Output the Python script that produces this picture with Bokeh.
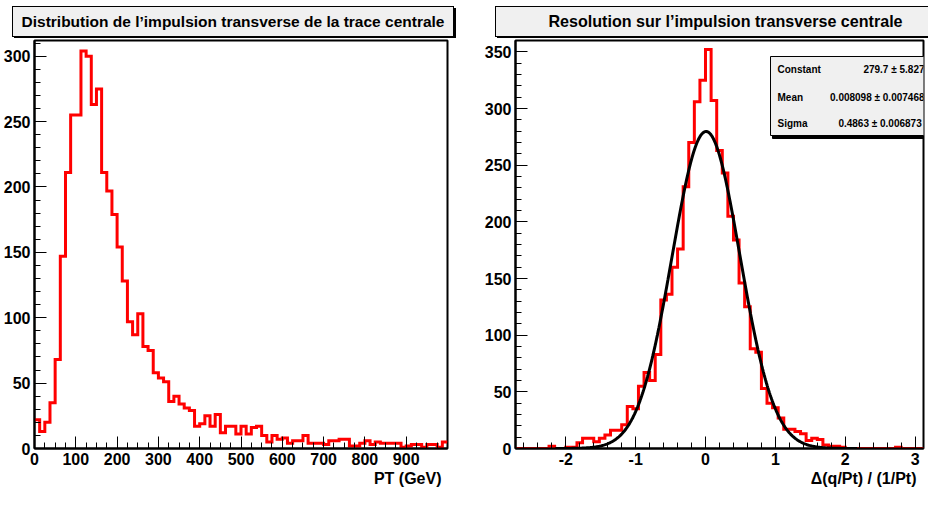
import numpy as np
from bokeh.plotting import figure
from bokeh.models import FixedTicker, BoxAnnotation, Label, Range1d, Title, Div
from bokeh.layouts import row, column
from bokeh.embed import file_html
from bokeh.resources import INLINE

FONT = "Liberation Sans"

# ---------------- data ----------------
# Left: transverse momentum distribution, 80 bins from 0 to 1000 GeV
pt_min, pt_max, pt_nbins = 0.0, 1000.0, 80
pt_counts = [22, 13, 20, 35, 68, 147, 211, 255, 255, 304,
             300, 263, 275, 211, 197, 179, 154, 128, 97, 87,
             103, 78, 75, 58, 54, 51, 36, 40, 34, 31,
             29, 17, 19, 25, 17, 26, 12, 17, 17, 11,
             17, 11, 16, 17, 10, 5, 10, 7, 8, 4,
             6, 6, 10, 4, 4, 4, 3, 6, 6, 7,
             7, 2, 2, 4, 6, 3, 5, 4, 4, 4,
             4, 1, 2, 3, 3, 1, 3, 3, 1, 5]
pt_yrange = (0, 312)
pt_major_ticks = [0, 100, 200, 300, 400, 500, 600, 700, 800, 900]
pt_minor_ticks = list(range(0, 1001, 25))
pt_y_major = [0, 50, 100, 150, 200, 250, 300]
pt_y_minor = list(range(0, 311, 10))

# Right: resolution on transverse momentum, 73 bins of 0.08
res_min, res_max, res_nbins = -2.72, 3.12, 73
res_counts = [0, 0, 0, 0, 0, 0, 2, 0, 0, 1,
              1, 5, 9, 9, 6, 9, 12, 16, 16, 21,
              37, 35, 55, 67, 60, 83, 131, 136, 160, 176,
              231, 270, 306, 325, 352, 307, 263, 243, 205, 184,
              146, 125, 88, 85, 53, 40, 36, 27, 17, 17,
              15, 13, 7, 9, 8, 3, 2, 2, 1, 0,
              0, 0, 0, 0, 0, 0, 0, 0, 1, 0,
              0, 0, 0]
res_yrange = (0, 360)
res_x_major = [-2, -1, 0, 1, 2, 3]
res_x_labels = {-2: "-2", -1: "-1", 0: "0", 1: "1", 2: "2", 3: "3"}
res_x_minor = [round(-2.6 + 0.2 * i, 1) for i in range(29)]
res_y_major = [0, 50, 100, 150, 200, 250, 300, 350]
res_y_minor = list(range(0, 361, 10))

# Gaussian fit parameters (stats box)
fit_names = ["Constant", "Mean", "Sigma"]
fit_values = [279.7, 0.008098, 0.4863]
fit_errors = [5.827, 0.007468, 0.006873]
fit_texts = ["279.7 \u00b1 5.827", "0.008098 \u00b1 0.007468", "0.4863  \u00b1 0.006873"]
fit_range = (-2.15, 2.17)

titles = ["Distribution de l\u2019impulsion transverse de la trace centrale",
          "Resolution sur l\u2019impulsion transverse centrale"]
xlabels = ["PT (GeV)", "\u0394(q/Pt) / (1/Pt)"]

# ---------------- layout ----------------
HT = 38                  # height of the title strip
BT, FH, BB = 2, 408, 44  # main figure borders / frame height


def style_axes(p, xmaj, xmin, ymaj, ymin):
    p.xaxis.ticker = FixedTicker(ticks=xmaj, minor_ticks=xmin)
    p.yaxis.ticker = FixedTicker(ticks=ymaj, minor_ticks=ymin)
    for ax in (p.xaxis[0], p.yaxis[0]):
        ax.major_tick_in = 12
        ax.major_tick_out = 0
        ax.minor_tick_in = 6
        ax.minor_tick_out = 0
        ax.major_tick_line_color = "black"
        ax.minor_tick_line_color = "black"
        ax.major_tick_line_width = 1
        ax.minor_tick_line_width = 1
        ax.axis_line_color = "black"
        ax.axis_line_width = 2
        ax.major_label_text_font = FONT
        ax.major_label_text_font_style = "bold"
        ax.major_label_text_font_size = "16px"
        ax.major_label_text_color = "black"
        ax.major_label_standoff = 4
    p.grid.visible = False
    p.outline_line_color = "black"
    p.outline_line_width = 2


def axis_title(p, s, offset):
    p.add_layout(Title(text=s, align="right", offset=offset, standoff=1,
                       text_font=FONT, text_font_style="bold", text_font_size="16px",
                       text_color="black"), "below")


def make_fig(W, BL, FW, BR, xr, yr):
    p = figure(width=W, height=BT + FH + BB, frame_width=FW, frame_height=FH,
               min_border_left=BL, min_border_right=BR,
               min_border_top=BT, min_border_bottom=BB,
               x_range=Range1d(*xr), y_range=Range1d(*yr),
               output_backend="svg", toolbar_location=None)
    p.background_fill_color = "white"
    p.border_fill_color = "white"
    return p


def title_strip(W, left, top, width, height, s, size):
    # ROOT-like title box: grey fill, black border, dark shadow
    html = (f'<div style="position:relative;margin-left:{left}px;margin-top:{top}px;'
            f'width:{width}px;min-width:{width}px;max-width:none;height:{height}px;'
            f'box-sizing:border-box;background:#f0f0f0;border:1px solid #000;'
            f'box-shadow:2px 2px 0 #000;display:flex;align-items:center;justify-content:center;'
            f"font-family:'{FONT}';font-weight:bold;font-size:{size};color:#000;"
            f'white-space:nowrap;line-height:1;">{s}</div>')
    return Div(text=html, width=W, height=HT, margin=0,
               styles={"overflow": "hidden", "background-color": "white"})


def box(p, BL, l, r, t, b, color, line=None):
    # local coords of the main figure (y from top) -> screen units relative to frame
    p.add_layout(BoxAnnotation(left=l - BL, right=r - BL, top=BT + FH - t, bottom=BT + FH - b,
                               left_units="screen", right_units="screen",
                               top_units="screen", bottom_units="screen",
                               fill_color=color, fill_alpha=1.0,
                               line_color=line if line else color, line_width=1, line_alpha=1.0))


def text(p, BL, x, y, s, size, align="center"):
    p.add_layout(Label(x=x - BL, y=BT + FH - y, x_units="screen", y_units="screen", text=s,
                       text_font=FONT, text_font_style="bold", text_font_size=size,
                       text_color="black", text_align=align, text_baseline="middle",
                       level="overlay"))


# ---------------- left panel ----------------
W1, BL1, FW1, BR1 = 462, 33, 413, 16
p1 = make_fig(W1, BL1, FW1, BR1, (pt_min, pt_max), pt_yrange)
style_axes(p1, pt_major_ticks, pt_minor_ticks, pt_y_major, pt_y_minor)
axis_title(p1, xlabels[0], 6)
pt_edges = np.linspace(pt_min, pt_max, pt_nbins + 1)
p1.step(pt_edges, list(pt_counts) + [pt_counts[-1]], mode="after",
        line_color="#ff0000", line_width=3, line_join="miter")
t1 = title_strip(W1, 12, 6, 442, 31, titles[0], "15.5px")

# ---------------- right panel ----------------
W2, BL2, FW2, BR2 = 465, 52, 408, 5
p2 = make_fig(W2, BL2, FW2, BR2, (res_min, res_max), res_yrange)
style_axes(p2, res_x_major, res_x_minor, res_y_major, res_y_minor)
p2.xaxis[0].major_label_overrides = res_x_labels
axis_title(p2, xlabels[1], 7)
res_edges = np.linspace(res_min, res_max, res_nbins + 1)
p2.step(res_edges, list(res_counts) + [res_counts[-1]], mode="after",
        line_color="#ff0000", line_width=3, line_join="miter")
xf = np.linspace(fit_range[0], fit_range[1], 400)
yf = fit_values[0] * np.exp(-0.5 * ((xf - fit_values[1]) / fit_values[2]) ** 2)
p2.line(xf, yf, line_color="black", line_width=3)
t2 = title_strip(W2, 32, 6, 461, 31, titles[1], "16.1px")

# stats box (main figure local coords, frame top at y = BT)
SY = HT - BT
box(p2, BL2, 309, 530, 56 - SY, 136 - SY, "black")
box(p2, BL2, 307, 528, 54 - SY, 133 - SY, "#f0f0f0", "black")
for i, (nm, tv) in enumerate(zip(fit_names, fit_texts)):
    yy = [67, 95, 121][i] - SY
    text(p2, BL2, 314, yy, nm, "10px", "left")
    text(p2, BL2, 461, yy, tv, "10px", "right")

layout = row(column(t1, p1, spacing=0), column(t2, p2, spacing=0), spacing=0)
open("out.html", "w").write(file_html(layout, INLINE))
